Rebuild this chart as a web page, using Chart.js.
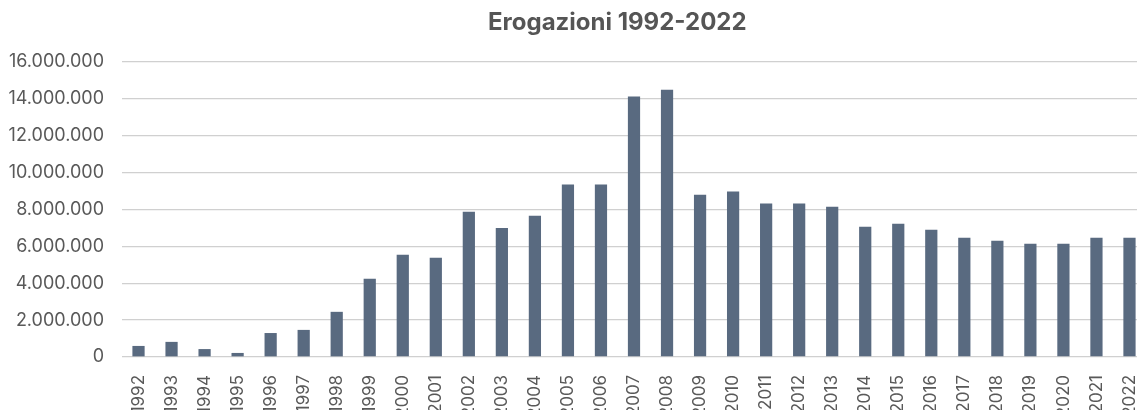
<!DOCTYPE html>
<html>
<head>
<meta charset="utf-8">
<script src="https://cdn.jsdelivr.net/npm/chart.js@4.4.1/dist/chart.umd.min.js"></script>
<style>
  html, body { margin: 0; padding: 0; background: #fff; overflow: hidden; }
  #wrap { position: relative; width: 1146px; height: 410px; }
  #title {
    position: absolute; top: 7px; left: 488px;
    font-family: Inter, sans-serif; font-weight: bold; font-size: 24px;
    color: #555555; white-space: nowrap;
  }
</style>
</head>
<body>
<div id="wrap">
  <div id="title">Erogazioni 1992-2022</div>
  <canvas id="erogChart" width="1146" height="410"></canvas>
</div>
<script>
    const years = ['1992', '1993', '1994', '1995', '1996', '1997', '1998', '1999', '2000', '2001',
      '2002', '2003', '2004', '2005', '2006', '2007', '2008', '2009', '2010', '2011',
      '2012', '2013', '2014', '2015', '2016', '2017', '2018', '2019', '2020', '2021', '2022'];
    const erogazioni = [600000, 820000, 430000, 220000, 1300000, 1470000, 2450000, 4240000, 5540000, 5380000,
      7880000, 7000000, 7660000, 9350000, 9350000, 14130000, 14500000, 8800000, 8970000, 8320000,
      8320000, 8150000, 7070000, 7230000, 6900000, 6470000, 6300000, 6140000, 6140000, 6470000, 6470000];
    const yMax = 16000000;
    const yStep = 2000000;

    const formatIt = v => String(v).replace(/\B(?=(\d{3})+(?!\d))/g, '.');

    const erogChart = new Chart(document.getElementById('erogChart'), {
      type: 'bar',
      data: {
        labels: years,
        datasets: [{
          label: 'Erogazioni',
          data: erogazioni,
          backgroundColor: '#596a80',
          categoryPercentage: 1,
          barPercentage: 0.37
        }]
      },
      options: {
        responsive: false,
        animation: false,
        layout: { padding: { top: 62, left: 8, right: 0, bottom: 0 } },
        plugins: {
          legend: { display: false },
          title: { display: false },
          tooltip: { enabled: false }
        },
        scales: {
          x: {
            grid: { display: false },
            border: { display: false },
            ticks: {
              minRotation: 90,
              maxRotation: 90,
              padding: 10,
              color: '#595959',
              font: { family: 'Inter', size: 17 }
            },
            afterFit: s => { s.height = 53; s.paddingLeft = 0; s.paddingRight = 0; }
          },
          y: {
            min: 0,
            max: yMax,
            border: { display: false },
            grid: { color: '#d0d0d0', lineWidth: 1.3, drawTicks: false },
            ticks: {
              stepSize: yStep,
              padding: 18,
              color: '#595959',
              font: { family: 'Inter', size: 18 },
              callback: v => formatIt(v)
            },
            afterFit: s => { s.width = 114; s.paddingTop = 0; s.paddingBottom = 0; }
          }
        }
      }
    });
</script>
</body>
</html>
